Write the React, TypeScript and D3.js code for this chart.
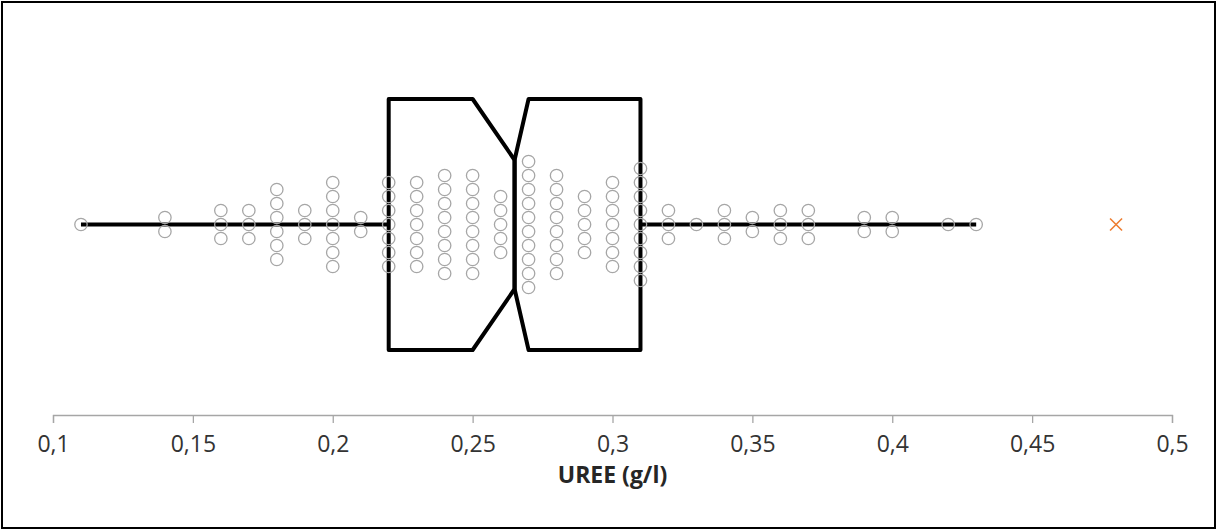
import React, { useEffect, useRef } from 'react';
import * as d3 from 'd3';

// values (UREE g/l), one column of dots per value
const dotValues = [0.11, 0.14, 0.16, 0.17, 0.18, 0.19, 0.2, 0.21, 0.22, 0.23, 0.24, 0.25, 0.26, 0.27, 0.28, 0.29, 0.3, 0.31, 0.32, 0.33, 0.34, 0.35, 0.36, 0.37, 0.39, 0.4, 0.42, 0.43];
const dotCounts = [1, 2, 3, 3, 6, 3, 7, 2, 7, 7, 8, 8, 5, 10, 8, 5, 7, 9, 3, 1, 3, 2, 3, 3, 2, 2, 1, 1];

const whiskerLow = 0.11;
const quartile1 = 0.22;
const notchLow = 0.25;
const median = 0.265;
const notchHigh = 0.27;
const quartile3 = 0.31;
const whiskerHigh = 0.43;
const outliers = [0.48];

const tickValues = [0.1, 0.15, 0.2, 0.25, 0.3, 0.35, 0.4, 0.45, 0.5];
const tickLabels = ['0,1', '0,15', '0,2', '0,25', '0,3', '0,35', '0,4', '0,45', '0,5'];
const axisTitle = 'UREE (g/l)';

const W = 1217;
const H = 530;
const FONT = '"Open Sans", "Liberation Sans", sans-serif';

export default function App() {
  const axisRef = useRef<SVGGElement>(null);

  const x = d3.scaleLinear().domain([0.1, 0.5]).range([53, 1172]);
  const cy = 224.5;
  const halfBox = 125.5;
  const halfWaist = 64.5;
  const dotStep = 14;
  const top = cy - halfBox;
  const bottom = cy + halfBox;

  useEffect(() => {
    const g = d3.select(axisRef.current);
    g.selectAll('*').remove();
    g.call(
      d3.axisBottom(x)
        .tickValues(tickValues)
        .tickSize(8)
        .tickPadding(13)
        .tickFormat((d, i) => tickLabels[i])
    );
    g.attr('font-family', null).attr('font-size', null);
    g.select('.domain').attr('stroke', '#a6a6a6').attr('stroke-width', 1.3);
    g.selectAll('.tick line').attr('stroke', '#a6a6a6').attr('stroke-width', 1.3);
    g.selectAll('.tick text')
      .attr('fill', '#333')
      .attr('font-family', FONT)
      .attr('font-size', 23);
  }, []);

  const line = d3.line<[number, number]>();
  const leftHalf = line([
    [x(quartile1), top],
    [x(notchLow), top],
    [x(median), cy - halfWaist],
    [x(median), cy + halfWaist],
    [x(notchLow), bottom],
    [x(quartile1), bottom],
  ]) + 'Z';
  const rightHalf = line([
    [x(quartile3), top],
    [x(notchHigh), top],
    [x(median), cy - halfWaist],
    [x(median), cy + halfWaist],
    [x(notchHigh), bottom],
    [x(quartile3), bottom],
  ]) + 'Z';

  const dots: { v: number; y: number }[] = [];
  dotValues.forEach((v, i) => {
    const n = dotCounts[i];
    for (let k = 0; k < n; k++) {
      dots.push({ v, y: cy + (k - (n - 1) / 2) * dotStep });
    }
  });

  return (
    <svg width={W} height={H} style={{ position: 'absolute', left: 0, top: 0, background: '#fff' }}>
      <rect x={2} y={2} width={W - 4} height={H - 4} fill="#fff" stroke="#000" strokeWidth={2} />

      <line x1={x(whiskerLow)} x2={x(quartile1)} y1={cy} y2={cy} stroke="#000" strokeWidth={4} />
      <line x1={x(quartile3)} x2={x(whiskerHigh)} y1={cy} y2={cy} stroke="#000" strokeWidth={4} />
      <path d={leftHalf} fill="none" stroke="#000" strokeWidth={4} strokeLinejoin="round" />
      <path d={rightHalf} fill="none" stroke="#000" strokeWidth={4} strokeLinejoin="round" />

      {dots.map((d, i) => (
        <circle key={i} cx={x(d.v)} cy={d.y} r={6.2} fill="none" stroke="#a6a6a6" strokeWidth={1.3} />
      ))}

      {outliers.map((v, i) => (
        <path
          key={i}
          d={`M${x(v) - 6},${cy - 6}L${x(v) + 6},${cy + 6}M${x(v) - 6},${cy + 6}L${x(v) + 6},${cy - 6}`}
          stroke="#ed7d31"
          strokeWidth={1.6}
          fill="none"
        />
      ))}

      <g ref={axisRef} transform="translate(0,415)" />
      <text x={(x(0.1) + x(0.5)) / 2} y={483} textAnchor="middle" fontFamily={FONT} fontWeight="bold" fontSize={23} fill="#262626">
        {axisTitle}
      </text>
    </svg>
  );
}
